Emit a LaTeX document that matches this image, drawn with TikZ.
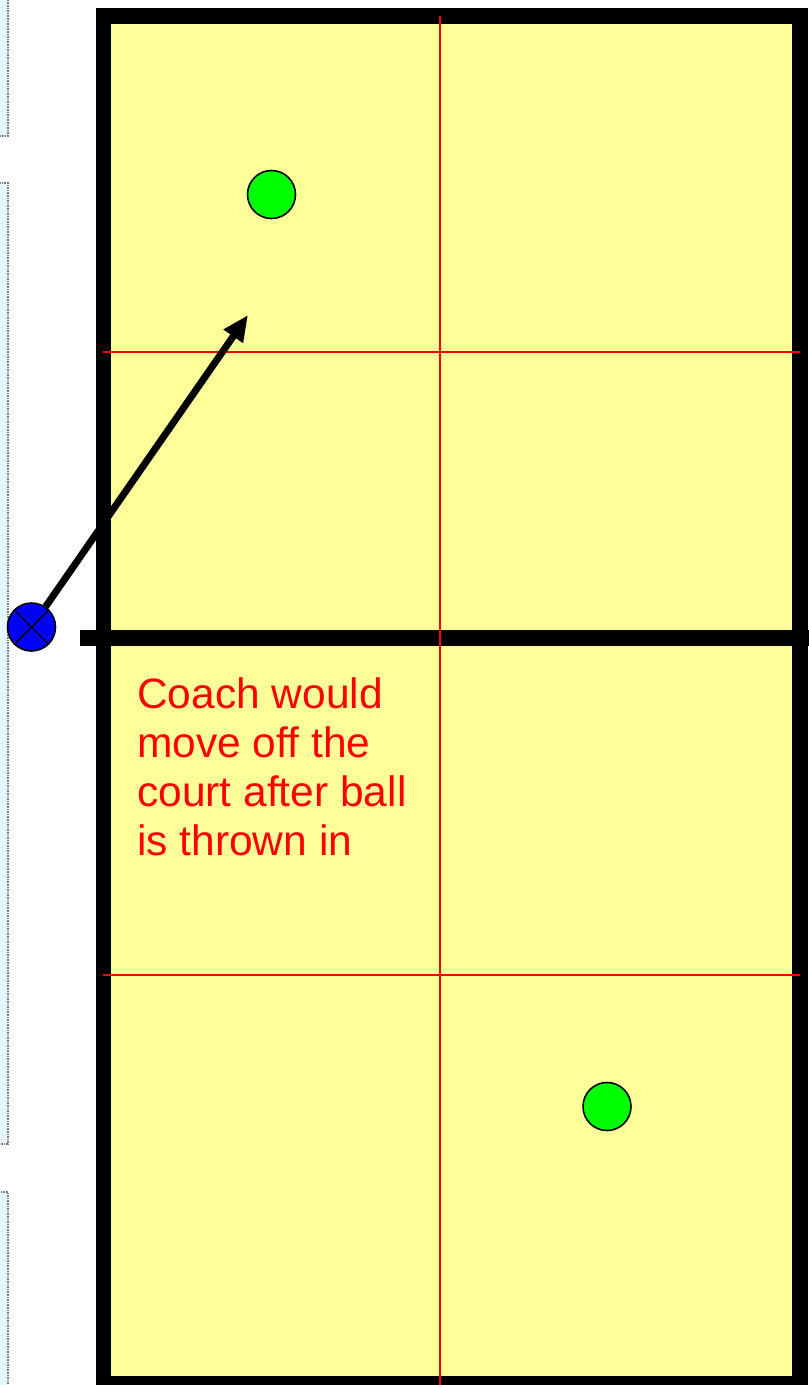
\documentclass[tikz,border=0pt]{standalone}
\usepackage{fontspec}
\setmainfont{Liberation Sans}
\usetikzlibrary{arrows.meta}
\definecolor{courtyellow}{HTML}{FFFF99}
\definecolor{sidecyan}{HTML}{E6F9FF}
\definecolor{dotgray}{HTML}{7A7A7A}
\definecolor{pgreen}{HTML}{00FF00}
\definecolor{pblue}{HTML}{0000FF}
\definecolor{lred}{HTML}{FF0000}
\tikzset{
  sidebox/.style={fill=sidecyan, draw=dotgray, densely dotted, line width=1.6pt},
  courtline/.style={draw=black, line width=15.5pt},
  zoneline/.style={draw=lred, line width=2.8pt},
  player/.style={circle, draw=black, line width=1.6pt, fill=pgreen, minimum size=48pt, inner sep=0pt},
  coachnode/.style={circle, draw=black, line width=1.6pt, fill=pblue, minimum size=48pt, inner sep=0pt},
  movearrow/.style={draw=black, line width=7pt, -{Triangle[length=26pt,width=22pt]}},
  notetext/.style={text=lred, font=\fontsize{42.5pt}{49pt}\selectfont, align=left, anchor=north west, inner sep=0pt}
}
\begin{document}
\begin{tikzpicture}[x=1pt,y=-1pt]
\useasboundingbox (0,0) rectangle (809,1385);
\fill[white] (0,0) rectangle (809,1385);
% side boxes at left edge
\path[sidebox] (-5,-5) rectangle (8,136);
\path[sidebox] (-5,183) rectangle (8,1144);
\path[sidebox] (-5,1192) rectangle (8,1392);
% court fill
\fill[courtyellow] (103.5,16) rectangle (800,1383.5);
% court border
\path[courtline] (103.5,16) rectangle (800,1383.5);
% half line
\draw[black, line width=16pt] (80,638) -- (809,638);
% zone lines
\draw[zoneline] (440,16) -- (440,1385);
\draw[zoneline] (103,352) -- (800,352);
\draw[zoneline] (103,975) -- (800,975);
% players
\node[player] (p1) at (271.5,194.5) {};
\node[player] (p2) at (607,1106.5) {};
% coach
\node[coachnode] (coach) at (31.5,627) {};
\draw[black, line width=1.4pt] (coach.45) -- (coach.225) (coach.135) -- (coach.315);
\coordinate (tgt) at (248,315);
\draw[movearrow] (coach) -- (tgt);
% note
\node[notetext] (note) at (137,677) {Coach would\\move off the\\court after ball\\is thrown in};
\end{tikzpicture}
\end{document}
